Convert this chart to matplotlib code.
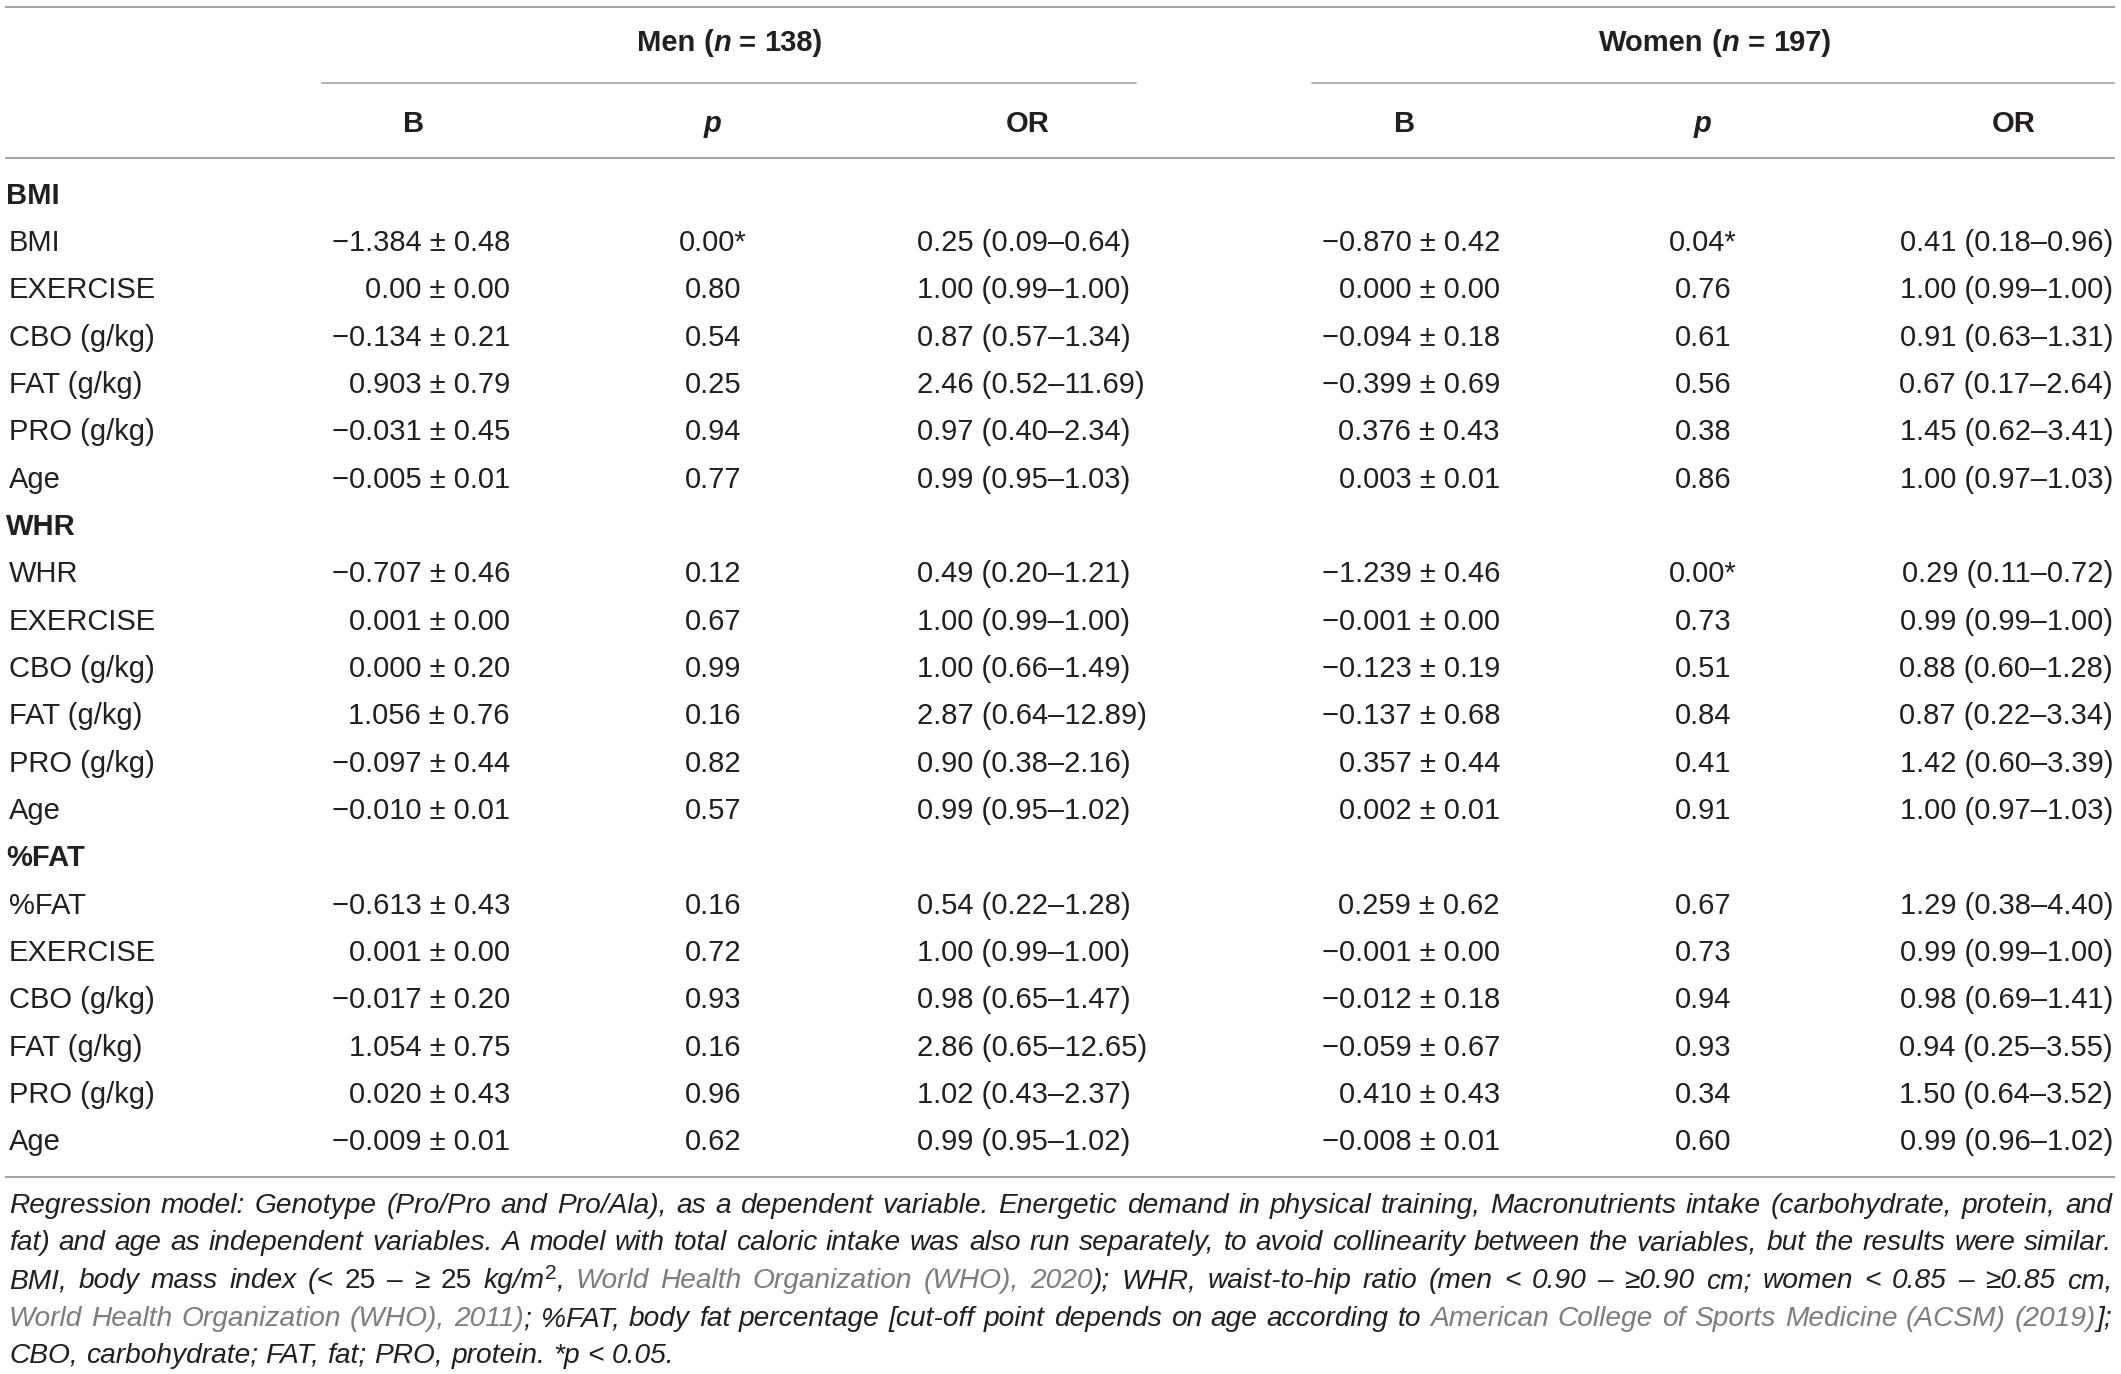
import matplotlib
matplotlib.use("Agg")
import matplotlib.pyplot as plt

plt.rcParams['font.family'] = ['Liberation Sans', 'DejaVu Sans']

# ---- data ----
sections = ['BMI', 'WHR', '%FAT']
row_labels = [
    ['BMI', 'EXERCISE', 'CBO (g/kg)', 'FAT (g/kg)', 'PRO (g/kg)', 'Age'],
    ['WHR', 'EXERCISE', 'CBO (g/kg)', 'FAT (g/kg)', 'PRO (g/kg)', 'Age'],
    ['%FAT', 'EXERCISE', 'CBO (g/kg)', 'FAT (g/kg)', 'PRO (g/kg)', 'Age'],
]
men_B = [
    ['\u22121.384 \u00b1 0.48', '0.00 \u00b1 0.00', '\u22120.134 \u00b1 0.21', '0.903 \u00b1 0.79', '\u22120.031 \u00b1 0.45', '\u22120.005 \u00b1 0.01'],
    ['\u22120.707 \u00b1 0.46', '0.001 \u00b1 0.00', '0.000 \u00b1 0.20', '1.056 \u00b1 0.76', '\u22120.097 \u00b1 0.44', '\u22120.010 \u00b1 0.01'],
    ['\u22120.613 \u00b1 0.43', '0.001 \u00b1 0.00', '\u22120.017 \u00b1 0.20', '1.054 \u00b1 0.75', '0.020 \u00b1 0.43', '\u22120.009 \u00b1 0.01'],
]
men_p = [
    ['0.00*', '0.80', '0.54', '0.25', '0.94', '0.77'],
    ['0.12', '0.67', '0.99', '0.16', '0.82', '0.57'],
    ['0.16', '0.72', '0.93', '0.16', '0.96', '0.62'],
]
men_OR = [
    ['0.25 (0.09\u20130.64)', '1.00 (0.99\u20131.00)', '0.87 (0.57\u20131.34)', '2.46 (0.52\u201311.69)', '0.97 (0.40\u20132.34)', '0.99 (0.95\u20131.03)'],
    ['0.49 (0.20\u20131.21)', '1.00 (0.99\u20131.00)', '1.00 (0.66\u20131.49)', '2.87 (0.64\u201312.89)', '0.90 (0.38\u20132.16)', '0.99 (0.95\u20131.02)'],
    ['0.54 (0.22\u20131.28)', '1.00 (0.99\u20131.00)', '0.98 (0.65\u20131.47)', '2.86 (0.65\u201312.65)', '1.02 (0.43\u20132.37)', '0.99 (0.95\u20131.02)'],
]
women_B = [
    ['\u22120.870 \u00b1 0.42', '0.000 \u00b1 0.00', '\u22120.094 \u00b1 0.18', '\u22120.399 \u00b1 0.69', '0.376 \u00b1 0.43', '0.003 \u00b1 0.01'],
    ['\u22121.239 \u00b1 0.46', '\u22120.001 \u00b1 0.00', '\u22120.123 \u00b1 0.19', '\u22120.137 \u00b1 0.68', '0.357 \u00b1 0.44', '0.002 \u00b1 0.01'],
    ['0.259 \u00b1 0.62', '\u22120.001 \u00b1 0.00', '\u22120.012 \u00b1 0.18', '\u22120.059 \u00b1 0.67', '0.410 \u00b1 0.43', '\u22120.008 \u00b1 0.01'],
]
women_p = [
    ['0.04*', '0.76', '0.61', '0.56', '0.38', '0.86'],
    ['0.00*', '0.73', '0.51', '0.84', '0.41', '0.91'],
    ['0.67', '0.73', '0.94', '0.93', '0.34', '0.60'],
]
women_OR = [
    ['0.41 (0.18\u20130.96)', '1.00 (0.99\u20131.00)', '0.91 (0.63\u20131.31)', '0.67 (0.17\u20132.64)', '1.45 (0.62\u20133.41)', '1.00 (0.97\u20131.03)'],
    ['0.29 (0.11\u20130.72)', '0.99 (0.99\u20131.00)', '0.88 (0.60\u20131.28)', '0.87 (0.22\u20133.34)', '1.42 (0.60\u20133.39)', '1.00 (0.97\u20131.03)'],
    ['1.29 (0.38\u20134.40)', '0.99 (0.99\u20131.00)', '0.98 (0.69\u20131.41)', '0.94 (0.25\u20133.55)', '1.50 (0.64\u20133.52)', '0.99 (0.96\u20131.02)'],
]

footnote = [
    [("Regression model: Genotype (Pro/Pro and Pro/Ala), as a dependent variable. Energetic demand in physical training, Macronutrients intake (carbohydrate, protein, and", 'it')],
    [("fat) and age as independent variables. A model with total caloric intake was also run separately, to avoid collinearity between the variables, but the results were similar.", 'it')],
    [("BMI, body mass index (", 'it'), ("< 25 \u2013  \u2265 25", 'up'), (" kg/m", 'it'), ("2", 'sup'), (", ", 'it'),
     ("World Health Organization (WHO), 2020", 'gray'),
     ("); WHR, waist-to-hip ratio (men < 0.90 \u2013 \u22650.90 cm; women < 0.85 \u2013 \u22650.85 cm,", 'it')],
    [("World Health Organization (WHO), 2011)", 'gray'),
     ("; %FAT, body fat percentage [cut-off point depends on age according to ", 'it'),
     ("American College of Sports Medicine (ACSM) (2019)", 'gray'), ("];", 'it')],
    [("CBO, carbohydrate; FAT, fat; PRO, protein. *p < 0.05.", 'it')],
]

# ---- figure ----
W, H = 2121, 1374
fig = plt.figure(figsize=(W / 100, H / 100), dpi=100)
ax = fig.add_axes([0, 0, 1, 1])
ax.set_xlim(0, W)
ax.set_ylim(H, 0)
ax.axis('off')
renderer = fig.canvas.get_renderer()

TXT = '#231f20'
GRAY = '#7d7d7d'
LINE = '#a6a6a6'
FS = 21
SUP = 0.75

styles = {
    'it': dict(style='italic', color=TXT),
    'up': dict(color=TXT),
    'gray': dict(style='italic', color=GRAY),
    'sup': dict(color=TXT),
    'b': dict(weight='bold', color=TXT),
    'bi': dict(weight='bold', style='italic', color=TXT),
}


def measure(s, size, st):
    t = ax.text(0, 0, s, fontsize=size, **styles[st])
    w = t.get_window_extent(renderer).width
    t.remove()
    return w


def split_words(runs):
    words = [[]]
    for txt, st in runs:
        parts = txt.split(' ')
        for k, part in enumerate(parts):
            if k > 0:
                words.append([])
            if part:
                words[-1].append((part, st))
    return [w for w in words if w]


def word_widths(words, size):
    out = []
    for w in words:
        tot = 0
        for s, st in w:
            sz = size * SUP if st == 'sup' else size
            tot += measure(s, sz, st)
        out.append(tot)
    return out


def draw_runs(x, y, runs, size, ha='left', right=None):
    words = split_words(runs)
    sp = measure('a a', size, 'it') - measure('aa', size, 'it')
    widths = word_widths(words, size)
    gap = sp
    if right is not None and len(words) > 1:
        gap = (right - x - sum(widths)) / (len(words) - 1)
    total = sum(widths) + gap * (len(words) - 1)
    if ha == 'center':
        x = x - total / 2
    cx = x
    for w, ww in zip(words, widths):
        px = cx
        for s, st in w:
            sz = size * SUP if st == 'sup' else size
            dy = -size * 0.45 if st == 'sup' else 0
            ax.text(px, y + dy, s, fontsize=sz, va='baseline', ha='left', **styles[st])
            px += measure(s, sz, st)
        cx += ww + gap


# rules
ax.plot([6, 2114], [7, 7], color=LINE, lw=1.5)
ax.plot([322, 1136], [83, 83], color=LINE, lw=1.2)
ax.plot([1312, 2114], [83, 83], color=LINE, lw=1.2)
ax.plot([6, 2114], [158, 158], color=LINE, lw=1.5)
ax.plot([6, 2114], [1177, 1177], color=LINE, lw=1.5)

# group titles
draw_runs(730, 51, [("Men (", 'b'), ("n", 'bi'), (" = 138)", 'b')], FS, ha='center')
draw_runs(1715, 51, [("Women (", 'b'), ("n", 'bi'), (" = 197)", 'b')], FS, ha='center')

# column headers
hy = 132.5
for cx, lab in [(414, 'B'), (1028, 'OR'), (1405, 'B'), (2014, 'OR')]:
    ax.text(cx, hy, lab, fontsize=FS, weight='bold', color=TXT, ha='center', va='baseline')
for cx in [713, 1703]:
    ax.text(cx, hy, 'p', fontsize=FS, weight='bold', style='italic', color=TXT, ha='center', va='baseline')

# body
y0 = 193
step = 47.35
off = 10.5
for i, sec in enumerate(sections):
    ys = y0 + step * (i * 7)
    ax.text(6, ys + off, sec, fontsize=FS, weight='bold', color=TXT, ha='left', va='baseline')
    for j in range(6):
        y = y0 + step * (i * 7 + j + 1) + off
        ax.text(9, y, row_labels[i][j], fontsize=FS, color=TXT, ha='left', va='baseline')
        ax.text(510, y, men_B[i][j], fontsize=FS, color=TXT, ha='right', va='baseline')
        ax.text(713, y, men_p[i][j], fontsize=FS, color=TXT, ha='center', va='baseline')
        ax.text(917, y, men_OR[i][j], fontsize=FS, color=TXT, ha='left', va='baseline')
        ax.text(1500, y, women_B[i][j], fontsize=FS, color=TXT, ha='right', va='baseline')
        ax.text(1703, y, women_p[i][j], fontsize=FS, color=TXT, ha='center', va='baseline')
        ax.text(2113, y, women_OR[i][j], fontsize=FS, color=TXT, ha='right', va='baseline')

# footnote: largest size (up to 20.5) whose natural lines fit the table width
fs_note = 20.5
while fs_note > 12:
    sp = measure('a a', fs_note, 'it') - measure('aa', fs_note, 'it')
    widest = 0
    for runs in footnote:
        ws = word_widths(split_words(runs), fs_note)
        widest = max(widest, sum(ws) + sp * (len(ws) - 1))
    if widest <= 2103:
        break
    fs_note -= 0.25

note_y = [1213, 1250, 1288, 1326, 1363]
for k, runs in enumerate(footnote):
    right = 2112 if k < len(footnote) - 1 else None
    draw_runs(9, note_y[k], runs, fs_note, right=right)

fig.savefig('out.png', dpi=100)
